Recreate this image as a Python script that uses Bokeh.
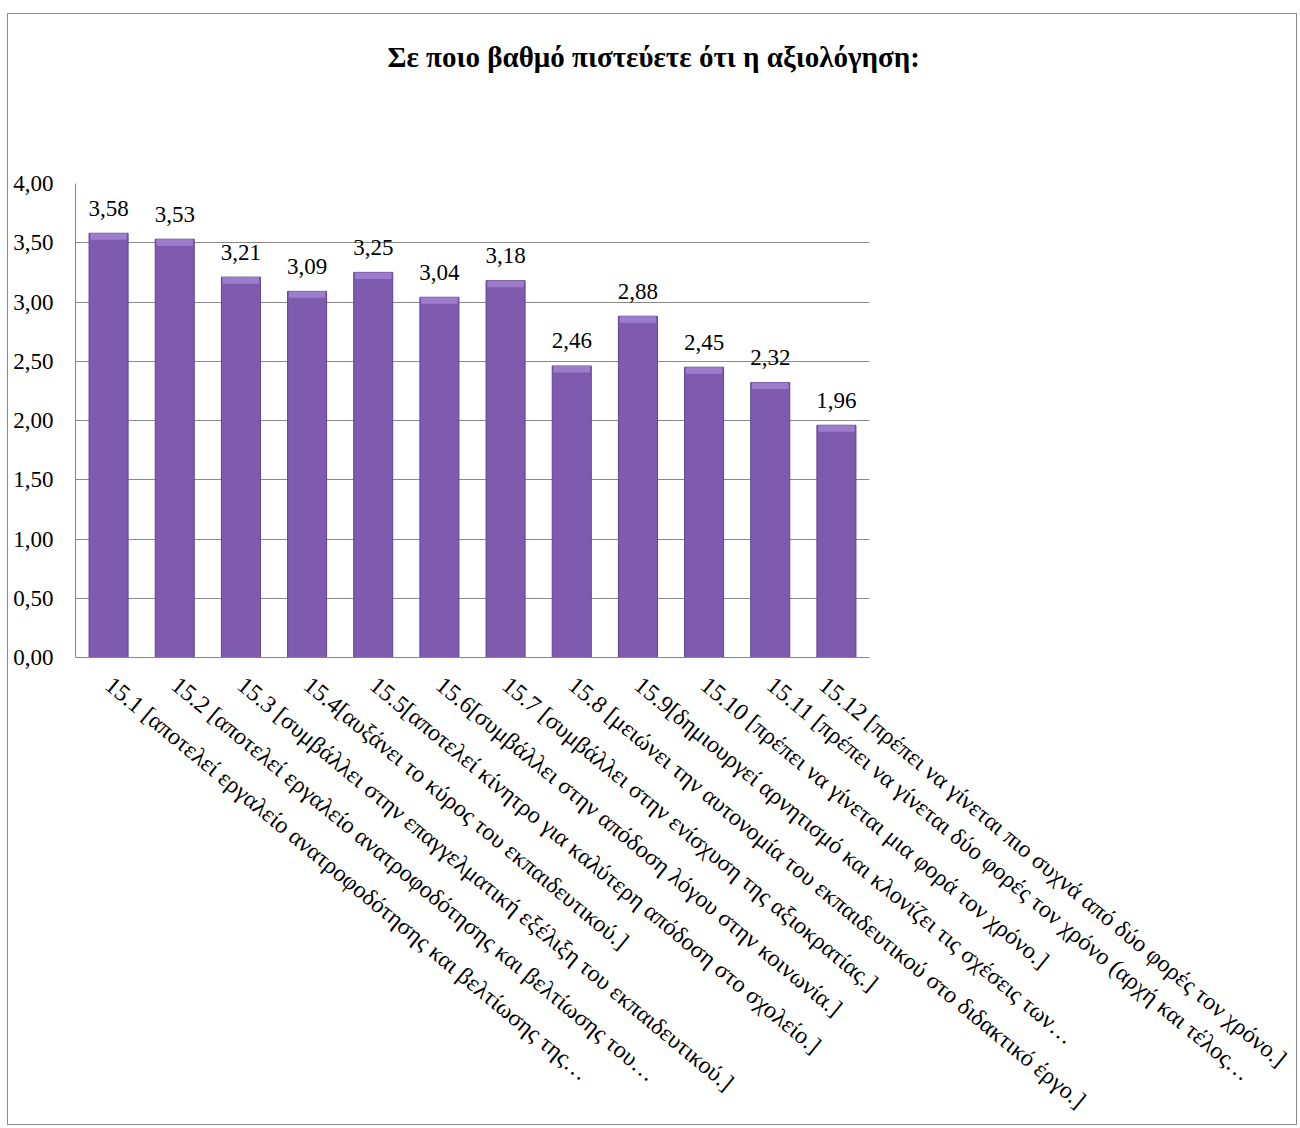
import math
from bokeh.plotting import figure
from bokeh.models import FixedTicker, ColumnDataSource, Title
from bokeh.core.properties import value
from bokeh.embed import file_html
from bokeh.resources import INLINE

categories = [
    "15.1 [αποτελεί εργαλείο ανατροφοδότησης και βελτίωσης της…",
    "15.2 [αποτελεί εργαλείο ανατροφοδότησης και βελτίωσης του…",
    "15.3 [συμβάλλει στην επαγγελματική εξέλιξη του εκπαιδευτικού.]",
    "15.4[αυξάνει το κύρος του εκπαιδευτικού.]",
    "15.5[αποτελεί κίνητρο για καλύτερη απόδοση στο σχολείο.]",
    "15.6[συμβάλλει στην απόδοση λόγου στην κοινωνία.]",
    "15.7 [συμβάλλει στην ενίσχυση της αξιοκρατίας.]",
    "15.8 [μειώνει την αυτονομία του εκπαιδευτικού στο διδακτικό έργο.]",
    "15.9[δημιουργεί αρνητισμό και κλονίζει τις σχέσεις των…",
    "15.10 [πρέπει να γίνεται μια φορά τον χρόνο.]",
    "15.11 [πρέπει να γίνεται δύο φορές τον χρόνο (αρχή και τέλος…",
    "15.12  [πρέπει να γίνεται πιο συχνά από δύο φορές τον χρόνο.]",
]
values = [3.58, 3.53, 3.21, 3.09, 3.25, 3.04, 3.18, 2.46, 2.88, 2.45, 2.32, 1.96]
value_labels = ["3,58", "3,53", "3,21", "3,09", "3,25", "3,04", "3,18", "2,46", "2,88", "2,45", "2,32", "1,96"]
y_ticks = [0.0, 0.5, 1.0, 1.5, 2.0, 2.5, 3.0, 3.5, 4.0]
y_tick_labels = ["0,00", "0,50", "1,00", "1,50", "2,00", "2,50", "3,00", "3,50", "4,00"]
title_text = "Σε ποιο βαθμό πιστεύετε ότι η αξιολόγηση:"

FONT = "Liberation Serif"

src = ColumnDataSource(dict(
    x=categories,
    top=values,
    cap_bottom=[v - 0.055 for v in values],
    lab=value_labels,
))

p = figure(
    x_range=categories, y_range=(0, 4),
    width=1290, height=1112,
    min_border_left=67, min_border_right=429,
    min_border_top=169, min_border_bottom=466,
    output_backend="svg", toolbar_location=None,
)
p.styles = {"border": "1px solid #8c8c8c", "margin-left": "7px", "margin-top": "13px"}
p.outline_line_color = None
p.background_fill_color = "white"
p.border_fill_color = "white"

# spacer between frame and title, then the title itself
p.add_layout(Title(text=" ", text_font_size="10px", standoff=93), "above")
p.add_layout(Title(text=title_text, align="left", offset=312, standoff=10,
                   text_font=FONT, text_font_size="29px", text_font_style="bold",
                   text_color="black"), "above")

# gridlines
p.xgrid.grid_line_color = None
p.ygrid.grid_line_color = "#8a8a8a"
p.ygrid.grid_line_width = 1
p.yaxis.ticker = FixedTicker(ticks=y_ticks)
p.yaxis.major_label_overrides = {t: l for t, l in zip(y_ticks, y_tick_labels)}

for ax in (p.xaxis, p.yaxis):
    ax.axis_line_color = "#868686"
    ax.major_tick_line_color = None
    ax.minor_tick_line_color = None
    ax.major_label_text_font = FONT
    ax.major_label_text_color = "black"

p.yaxis.major_label_text_font_size = "23px"
p.yaxis.major_label_standoff = 16
p.xaxis.major_label_text_font_size = "24px"
p.xaxis.major_label_orientation = -0.69
p.xaxis.major_label_standoff = 18

# bars
p.vbar(x="x", top="top", bottom=0, width=0.59, source=src,
       fill_color="#7E5BAF", line_color="#5F4490", line_width=1)
# lighter bevel cap on top
p.vbar(x="x", top="top", bottom="cap_bottom", width=0.55, source=src,
       fill_color="#9C7DCB", line_color=None)

p.text(x="x", y="top", text="lab", source=src,
       text_font=value(FONT), text_font_size="23px",
       text_align="center", text_baseline="alphabetic",
       y_offset=-25, text_color="black")

open("out.html", "w").write(file_html(p, INLINE))
